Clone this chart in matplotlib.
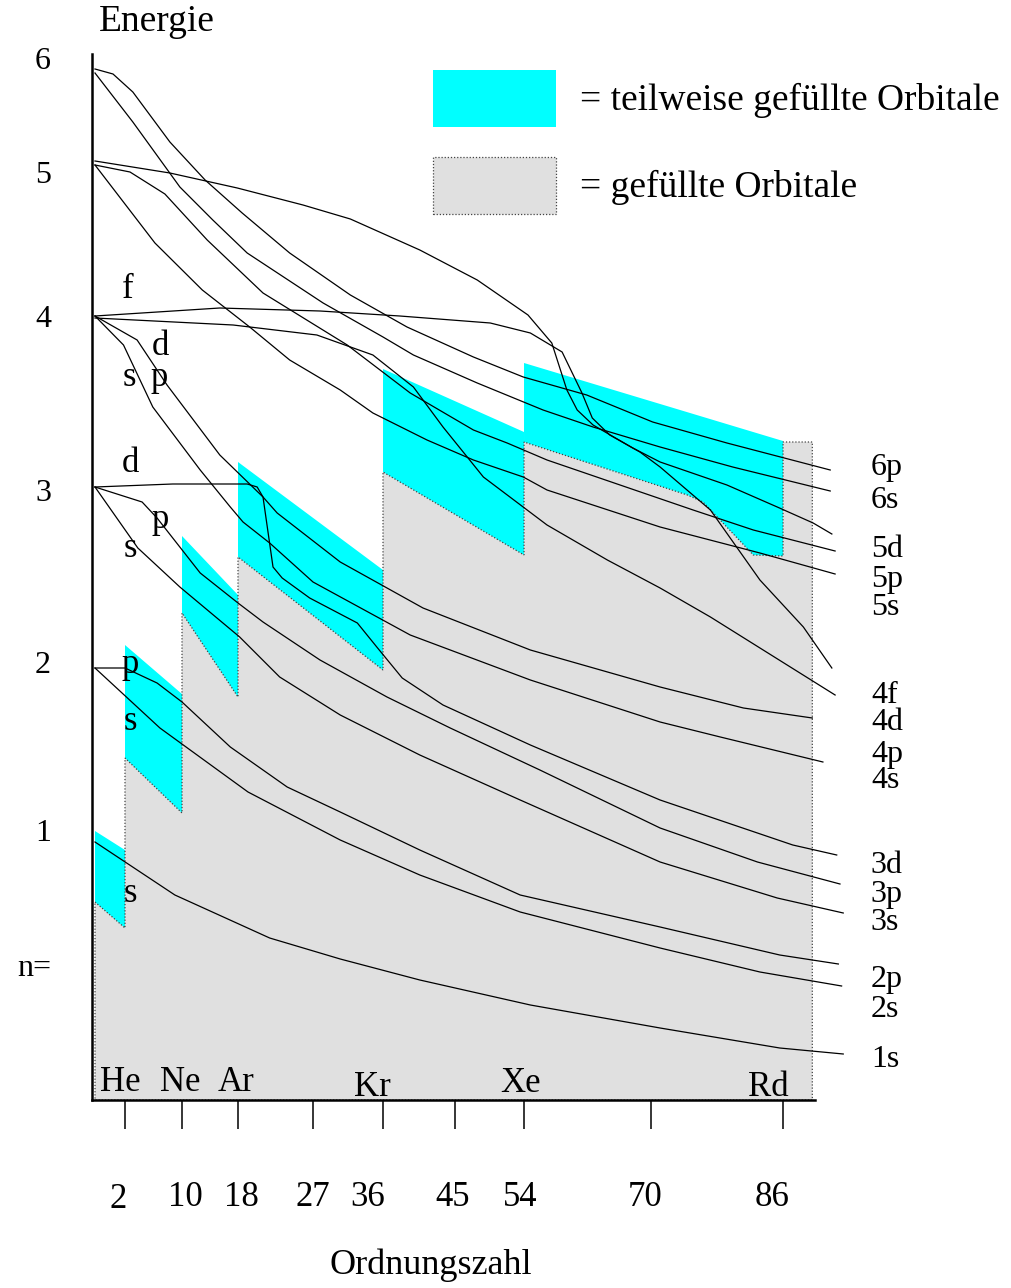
import numpy as np
import matplotlib.pyplot as plt
from matplotlib.patches import Patch

plt.rcParams['font.family'] = ['Liberation Serif', 'DejaVu Serif']

# the hand drawn Ordnungszahl axis is not linear -> piecewise scale
z_knots = [-10, 0, 2, 10, 18, 27, 36, 45, 54, 70, 86, 130]
p_knots = [-55, 95, 125, 182, 238, 313, 383, 455, 524, 651, 783, 1141]

x_ticks = [2, 10, 18, 27, 36, 45, 54, 70, 86]
# the numbers under the ticks are placed by hand in the original
x_label_z = [1.53, 10.43, 18.36, 27, 34.07, 44.75, 53.48, 69.24, 84.67]
x_label_e = [-1.00, -0.97, -0.97, -0.97, -0.97, -0.97, -0.97, -0.97, -0.97]

# orbital energies (arbitrary units) vs Ordnungszahl
z_1s = [0, 9.0, 21.8, 30.5, 40.6, 54.8, 71.1, 85.6, 93.4]
e_1s = [2.58, 2.05, 1.62, 1.41, 1.20, 0.95, 0.72, 0.52, 0.46]

z_2s = [0, 6.9, 19.2, 30.5, 40.6, 53.5, 71.1, 83.2, 93.2]
e_2s = [4.32, 3.72, 3.08, 2.60, 2.25, 1.88, 1.52, 1.28, 1.14]

z_2p = [0, 2, 6.5, 10, 16.9, 23.9, 30.5, 40.6, 53.5, 71.1, 85.6, 92.8]
e_2p = [4.32, 4.32, 4.17, 3.98, 3.53, 3.13, 2.88, 2.50, 2.05, 1.73, 1.45, 1.36]

z_3s = [0, 3.8, 9.7, 18.2, 23.0, 30.5, 40.6, 53.5, 71.1, 85.3, 93.4]
e_3s = [6.13, 5.52, 5.13, 4.63, 4.23, 3.85, 3.45, 3.00, 2.38, 2.02, 1.87]

z_3p = [0, 4.4, 6.5, 12.6, 18, 21, 27.9, 36.5, 44.4, 56.0, 71.1, 82.9, 93.0]
e_3p = [6.13, 5.98, 5.82, 5.27, 4.97, 4.78, 4.40, 4.03, 3.72, 3.30, 2.72, 2.38, 2.16]

z_3d = [0, 8.7, 19.1, 20.3, 21.0, 22.2, 23.3, 26.6, 32.7, 35.2, 38.4, 43.5, 54.8, 71.1, 87.2, 92.6]
e_3d = [6.13, 6.16, 6.16, 6.13, 6.03, 5.33, 5.22, 5.02, 4.77, 4.53, 4.22, 3.95, 3.55, 3.00, 2.55, 2.45]

z_4s = [0, 1.9, 5.9, 12.6, 16.9, 18.6, 21.8, 27, 39.4, 54.8, 71.1, 78.4, 90.9]
e_4s = [7.84, 7.55, 6.93, 6.30, 5.93, 5.78, 5.57, 5.18, 4.65, 4.20, 3.78, 3.63, 3.38]

z_4p = [0, 3.7, 7.9, 15.4, 21, 22.7, 30.5, 41, 54.8, 71.1, 81.2, 89.6]
e_4p = [7.84, 7.60, 7.15, 6.45, 6.03, 5.87, 5.38, 4.92, 4.50, 4.13, 3.92, 3.82]

z_4d = [0, 17.3, 27.5, 34.7, 39.8, 43.5, 48.7, 56.9, 64.5, 71.1, 77.2, 92.4]
e_4d = [7.82, 7.75, 7.65, 7.45, 7.13, 6.73, 6.23, 5.75, 5.40, 5.12, 4.83, 4.05]

z_4f = [0, 15.4, 27.9, 38.1, 49.6, 54.8, 58.8, 61.3, 62.6, 64.8, 68.6, 71.1, 77.2, 83.2, 88.5, 92.0]
e_4f = [7.84, 7.92, 7.89, 7.84, 7.77, 7.67, 7.48, 7.07, 6.82, 6.65, 6.48, 6.33, 5.90, 5.20, 4.73, 4.32]

z_5s = [0, 6.2, 12.9, 19.4, 24.2, 30.5, 34.7, 41.5, 47.4, 53.9, 56.9, 71.1, 83.2, 92.4]
e_5s = [9.35, 8.57, 8.10, 7.73, 7.40, 7.10, 6.87, 6.60, 6.40, 6.23, 6.10, 5.73, 5.47, 5.26]

z_5p = [0, 2.7, 7.6, 13.6, 21, 31.4, 39.4, 47.4, 51.8, 56.9, 75.1, 82.4, 92.4]
e_5p = [9.35, 9.28, 9.06, 8.60, 8.07, 7.55, 7.07, 6.70, 6.57, 6.40, 5.90, 5.70, 5.49]

z_5d = [0, 8.3, 17.9, 25.8, 31.8, 40.6, 47.9, 54.5, 57.5, 59.4, 60.7, 62.7, 67.7, 71.1, 79.2, 85.3, 89.7, 92.0]
e_5d = [9.39, 9.27, 9.12, 8.95, 8.81, 8.50, 8.20, 7.85, 7.57, 7.10, 6.90, 6.75, 6.52, 6.38, 6.15, 5.93, 5.77, 5.66]

z_6s = [0, 3.1, 9.7, 14.4, 19.1, 28.3, 36, 39.8, 47.9, 56.4, 62.7, 71.1, 79.9, 91.8]
e_6s = [10.27, 9.78, 9.13, 8.80, 8.47, 7.97, 7.63, 7.45, 7.17, 6.90, 6.73, 6.53, 6.33, 6.09]

z_6p = [0, 1.2, 3.1, 8.3, 13.3, 18.5, 24.2, 31.8, 39, 47.4, 53.9, 61.9, 70.2, 79.2, 91.8]
e_6p = [10.31, 10.26, 10.08, 9.58, 9.20, 8.87, 8.47, 8.05, 7.73, 7.43, 7.23, 7.05, 6.78, 6.57, 6.30]

# filled / partly filled regions, one piece per period
period_z = [[0, 2], [2, 10], [10, 18], [18, 36], [36, 54], [54, 74.4, 76.3, 82.4, 86]]
period_filled = [[1.98, 1.72], [3.42, 2.87], [4.87, 4.03], [5.43, 4.30], [6.28, 5.45],
                 [6.58, 6.05, 5.98, 5.45, 5.44]]
partial_top_start = [2.69, 4.55, 5.64, 6.38, 7.31, 7.37]
partial_top_end = [2.50, 4.06, 5.05, 5.30, 6.68, 6.59]
tail_z = [86, 89.6]
tail_e = [6.58, 6.58]

# labels
end_labels = ['6p', '6s', '5d', '5p', '5s', '4f', '4d', '4p', '4s', '3d', '3p', '3s', '2p', '2s', '1s']
end_label_e = [6.25, 5.92, 5.43, 5.13, 4.85, 3.97, 3.70, 3.38, 3.12, 2.27, 1.98, 1.70, 1.13, 0.83, 0.33]
end_label_z = 96.8

n_labels = ['6', '5', '4', '3', '2', '1', 'n=']
n_label_e = [10.42, 9.28, 7.84, 6.10, 4.38, 2.70, 1.35]

sub_letters = ['f', 'd', 's', 'p', 'd', 'p', 's', 'p', 's', 's']
sub_z = [2.42, 6.91, 2.56, 6.77, 2.70, 6.91, 2.70, 2.70, 2.70, 2.70]
sub_e = [8.02, 7.45, 7.14, 7.14, 6.28, 5.72, 5.43, 4.27, 3.70, 1.98]

nobles = ['He', 'Ne', 'Ar', 'Kr', 'Xe', 'Rd']
noble_z = [1.67, 9.7, 17.7, 34.6, 53.6, 84.2]
noble_e = [0.09, 0.09, 0.09, 0.04, 0.08, 0.04]

curves = [(z_1s, e_1s), (z_2s, e_2s), (z_2p, e_2p), (z_3s, e_3s), (z_3p, e_3p), (z_3d, e_3d),
          (z_4s, e_4s), (z_4p, e_4p), (z_4d, e_4d), (z_4f, e_4f), (z_5s, e_5s), (z_5p, e_5p),
          (z_5d, e_5d), (z_6s, e_6s), (z_6p, e_6p)]

CYAN = '#00ffff'
GRAY = '#e0e0e0'

fig = plt.figure(figsize=(10.11, 12.88), dpi=100)
ax = fig.add_axes([92/1011, 188/1288, 723/1011, 1046/1288])

fwd = lambda z: np.interp(z, z_knots, p_knots)
inv = lambda p: np.interp(p, p_knots, z_knots)
ax.set_xscale('function', functions=(fwd, inv))
ax.set_xlim(-0.2, 89.93)
ax.set_ylim(0, 10.46)

# gray = filled orbitals
gz = np.concatenate(period_z + [tail_z, [89.6, 0]])
ge = np.concatenate(period_filled + [tail_e, [0, 0]])
ax.fill(gz, ge, facecolor=GRAY, edgecolor='none', zorder=1)

# cyan = partly filled
for i in range(len(period_z)):
    z = period_z[i]
    cz = [z[0], z[-1]] + z[::-1]
    ce = [partial_top_start[i], partial_top_end[i]] + period_filled[i][::-1]
    ax.fill(cz, ce, facecolor=CYAN, edgecolor='none', zorder=1.5)

ax.fill(gz, ge, fill=False, edgecolor='#444444', lw=0.9, ls=(0, (1, 1.5)), zorder=2)

for z, e in curves:
    ax.plot(z, e, color='black', lw=0.9, zorder=3, clip_on=False)

for lab, e in zip(end_labels, end_label_e):
    ax.text(end_label_z, e, lab, fontsize=23, ha='left', va='baseline')

for lab, z, e in zip(sub_letters, sub_z, sub_e):
    ax.text(z, e, lab, fontsize=25, ha='center', va='baseline', zorder=4)

for lab, z, e in zip(nobles, noble_z, noble_e):
    ax.text(z, e, lab, fontsize=25, ha='center', va='baseline', zorder=4)

ax.spines['top'].set_visible(False)
ax.spines['right'].set_visible(False)
ax.spines['left'].set_linewidth(1.8)
ax.spines['bottom'].set_linewidth(1.8)
ax.spines['left'].set_zorder(5)
ax.spines['bottom'].set_zorder(5)

ax.set_xticks(x_ticks)
ax.set_xticklabels([])
ax.minorticks_off()
ax.tick_params(axis='x', direction='out', length=21, width=1.1)
for t, z, e in zip(x_ticks, x_label_z, x_label_e):
    ax.text(z, e, str(t), fontsize=25, ha='center', va='center')

ax.set_yticks(n_label_e)
ax.set_yticklabels(n_labels)
ax.tick_params(axis='y', length=0, pad=29.5, labelsize=23)

fig.text(157/1011, 1 - 22/1288, 'Energie', fontsize=27, ha='center', va='center')
fig.text(431/1011, 1 - 1265/1288, 'Ordnungszahl', fontsize=26, ha='center', va='center')

handles = [Patch(facecolor=CYAN, edgecolor='none'),
           Patch(facecolor=GRAY, edgecolor='#444444', lw=0.9, ls=(0, (1, 1.5)))]
fig.legend(handles, ['= teilweise gefüllte Orbitale', '= gefüllte Orbitale'],
           loc='upper left', bbox_to_anchor=(433/1011, 1 - 70/1288), frameon=False,
           fontsize=27, handlelength=3.28, handleheight=1.96, labelspacing=0.8,
           handletextpad=0.64, borderpad=0, borderaxespad=0)

fig.savefig('out.png', dpi=100)
